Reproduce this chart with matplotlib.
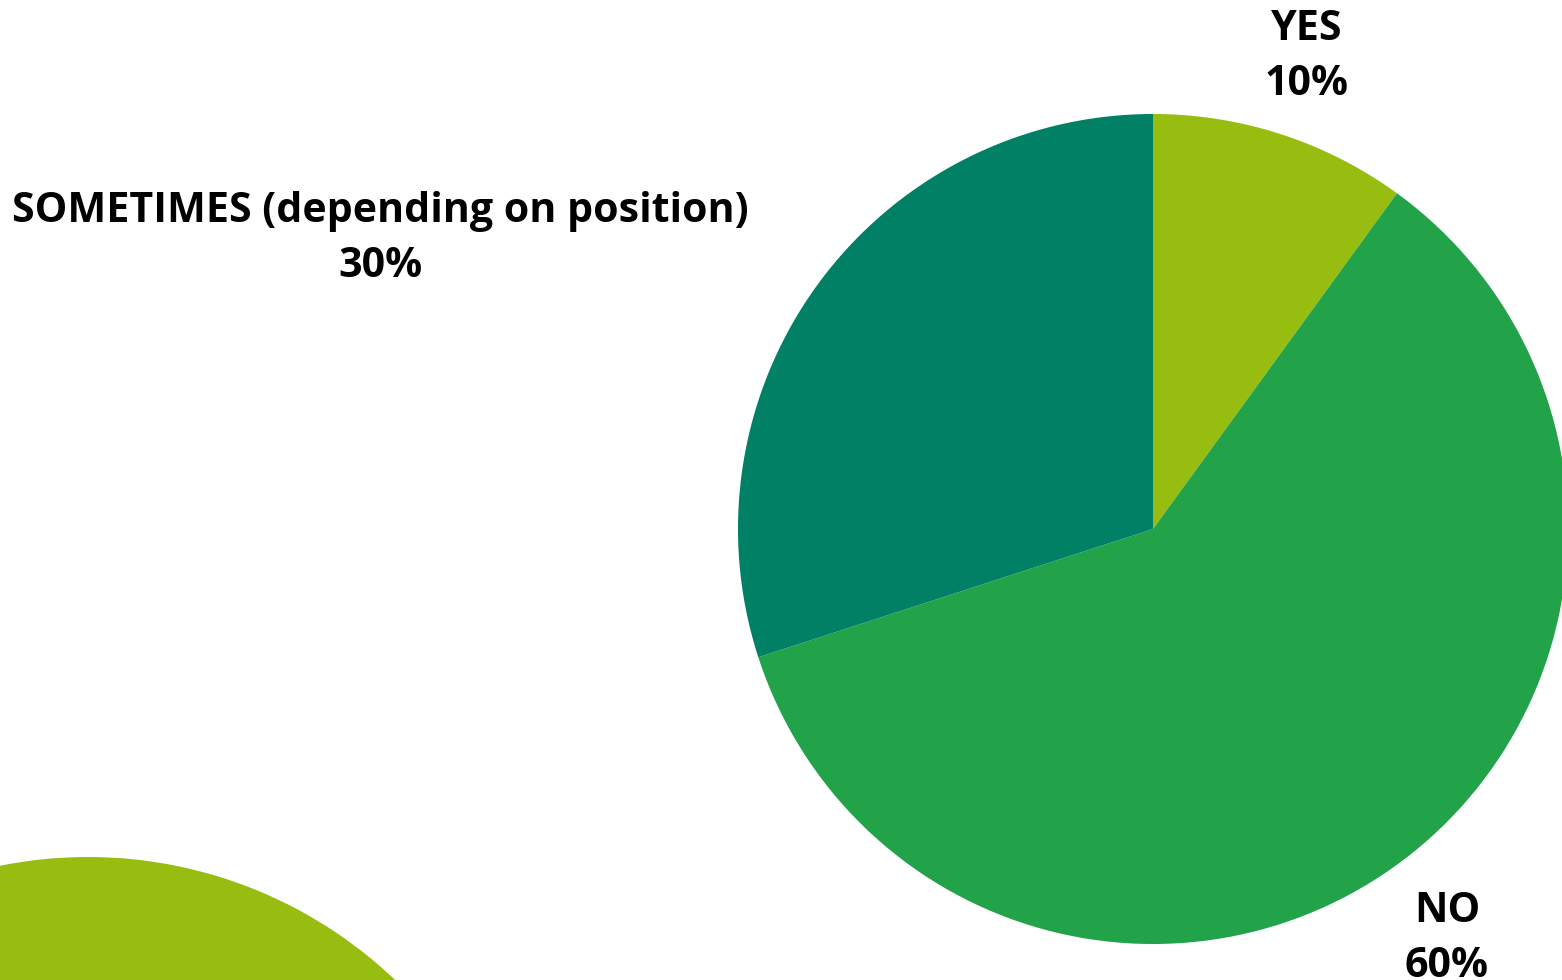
import matplotlib.pyplot as plt
from matplotlib.path import Path
from matplotlib.patches import PathPatch
from matplotlib.transforms import Affine2D

# survey answers
labels = ["YES", "NO", "SOMETIMES (depending on position)"]
values = [10, 60, 30]
colors = ["#97BD10", "#22A34A", "#008065"]

W, H = 1562, 980
fig = plt.figure(figsize=(W / 100, H / 100), dpi=100)
ax = fig.add_axes([0, 0, 1, 1])


def smooth_wedge(w):
    # rebuild a wedge outline with many bezier pieces so the big arc stays round
    arc = Path.arc(w.theta1, w.theta2, n=64)
    verts = list(arc.vertices) + [(0, 0), (0, 0)]
    codes = list(arc.codes) + [Path.LINETO, Path.CLOSEPOLY]
    p = Path(verts, codes)
    return Affine2D().scale(w.r).translate(*w.center).transform_path(p)


# pie, clockwise from 12 o'clock
cx, cy, r = 1153, H - 529, 415
wedges, _ = ax.pie(values, colors=colors, startangle=90, counterclock=False,
                   center=(cx, cy), radius=r, frame=True,
                   wedgeprops=dict(linewidth=0))
for w in wedges:
    ax.add_patch(PathPatch(smooth_wedge(w), facecolor=w.get_facecolor(), linewidth=0))
    w.set_visible(False)

# decorative circle in the bottom left corner
circ = Affine2D().scale(445).translate(88, H - 1302).transform_path(Path.arc(0, 360, n=64))
ax.add_patch(PathPatch(circ, facecolor=colors[0], linewidth=0))

# label positions (pixels from top left)
label_pos = [(1307, 57), (1447, 939), (380, 239)]
for lab, v, (x, y) in zip(labels, values, label_pos):
    ax.text(x, H - y, f"{lab}\n{v}%", ha="center", va="center",
            fontsize=29.6, fontweight="bold", family=["Open Sans", "DejaVu Sans"],
            linespacing=1.44, color="black")

ax.set_xlim(0, W)
ax.set_ylim(0, H)
ax.set_aspect("equal")
ax.axis("off")

fig.savefig("out.png", dpi=100)
